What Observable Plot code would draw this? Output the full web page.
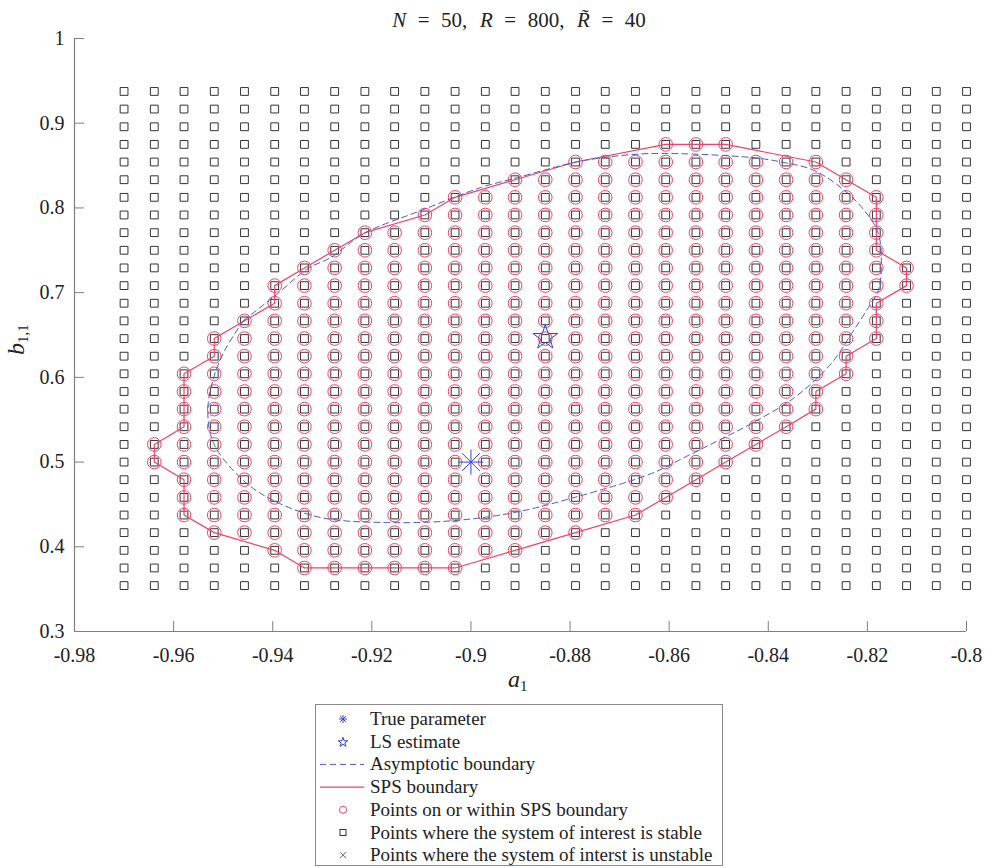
<!DOCTYPE html>
<html>
<head>
<meta charset="utf-8">
<script src="https://cdn.jsdelivr.net/npm/d3@7"></script>
<script src="https://cdn.jsdelivr.net/npm/@observablehq/plot@0.6"></script>
<style>
html,body{margin:0;padding:0;background:#fff;overflow:hidden}
#wrap{position:relative;width:985px;height:868px;font-family:"Liberation Serif","Times New Roman",Times,"DejaVu Serif",serif;color:#222}
.abs{position:absolute;white-space:nowrap;line-height:1}
.eq{display:inline-block;margin:0 0.55em}
.cm{display:inline-block;margin-right:0.6em}
</style>
</head>
<body>
<div id="wrap"></div>
<script>
// ---- grid of tested parameter values ----
const aGrid = [-0.9700, -0.9639, -0.9579, -0.9518, -0.9457, -0.9396, -0.9336, -0.9275, -0.9214, -0.9154,
               -0.9093, -0.9032, -0.8971, -0.8911, -0.8850, -0.8789, -0.8729, -0.8668, -0.8607, -0.8546,
               -0.8486, -0.8425, -0.8364, -0.8304, -0.8243, -0.8182, -0.8121, -0.8061, -0.8000];
const bGrid = [0.3542, 0.3750, 0.3958, 0.4167, 0.4375, 0.4583, 0.4792, 0.5000, 0.5208, 0.5417,
               0.5625, 0.5833, 0.6042, 0.6250, 0.6458, 0.6667, 0.6875, 0.7083, 0.7292, 0.7500,
               0.7708, 0.7917, 0.8125, 0.8333, 0.8542, 0.8750, 0.8958, 0.9167, 0.9375];
// rows (index into bGrid) on or within SPS boundary, per column of aGrid
const spsRowMin = [null, 7, 4, 3, 3, 2, 1, 1, 1, 1, 1, 1, 2, 2, 3, 3, 4, 4, 5, 6, 7, 8, 9, 10, 12, 14, 17, null, null];
const spsRowMax = [null, 8, 12, 14, 15, 17, 18, 19, 20, 20, 21, 22, 22, 23, 23, 24, 24, 24, 25, 25, 25, 24, 24, 24, 23, 22, 18, null, null];
// SPS boundary vertices: [column index, row index]
const spsBoundary = [[6,1],[11,1],[13,2],[15,3],[17,4],[18,5],[19,6],[20,7],[21,8],[22,9],[23,10],[23,11],
  [24,12],[24,13],[25,14],[25,16],[26,17],[26,18],[25,19],[25,22],[24,23],[23,24],[20,25],[18,25],[15,24],
  [13,23],[11,22],[10,21],[8,20],[7,19],[6,18],[5,17],[5,16],[4,15],[3,14],[3,13],[2,12],[2,9],[1,8],[1,7],
  [2,6],[2,4],[3,3],[5,2],[6,1]];
// asymptotic (ellipse-like) boundary
const asymA = [-0.9459, -0.9390, -0.9329, -0.9283, -0.9216, -0.9101, -0.8980, -0.8913, -0.8792, -0.8731,
               -0.8636, -0.8434, -0.8368, -0.8307, -0.8246, -0.8206, -0.8178, -0.8172, -0.8178, -0.8198,
               -0.8232, -0.8273, -0.8347, -0.8434, -0.8501, -0.8570, -0.8636, -0.8792, -0.8913, -0.9034,
               -0.9168, -0.9303, -0.9398, -0.9459, -0.9519, -0.9531, -0.9519, -0.9497, -0.9459];
const asymB = [0.6671, 0.6989, 0.7285, 0.7414, 0.7698, 0.7969, 0.8241, 0.8347, 0.8536, 0.8595,
               0.8642, 0.8595, 0.8536, 0.8442, 0.8205, 0.7969, 0.7698, 0.7296, 0.7025, 0.6824,
               0.6517, 0.6163, 0.5762, 0.5455, 0.5254, 0.5053, 0.4864, 0.4581, 0.4404, 0.4309,
               0.4286, 0.4345, 0.4545, 0.4782, 0.5218, 0.5608, 0.5998, 0.6316, 0.6671];
const trueParam = [{a: -0.9, b: 0.5}];
const lsEstimate = [{a: -0.885, b: 0.647}];
const xTicks = [-0.98, -0.96, -0.94, -0.92, -0.9, -0.88, -0.86, -0.84, -0.82, -0.8];
const yTicks = [0.3, 0.4, 0.5, 0.6, 0.7, 0.8, 0.9, 1];
const legendLabels = ["True parameter", "LS estimate", "Asymptotic boundary", "SPS boundary",
  "Points on or within SPS boundary", "Points where the system of interest is stable",
  "Points where the system of interst is unstable"];

// ---- build tables ----
const gridPts = [];
aGrid.forEach(a => bGrid.forEach(b => gridPts.push({a, b})));
const circlePts = [];
aGrid.forEach((a, i) => {
  if (spsRowMin[i] == null) return;
  for (let j = spsRowMin[i]; j <= spsRowMax[i]; j++) circlePts.push({a, b: bGrid[j]});
});
const spsPts = spsBoundary.map(([i, j]) => ({a: aGrid[i], b: bGrid[j]}));
const asymPts = asymA.map((a, k) => ({a, b: asymB[k]}));

// ---- custom symbols ----
const asterisk8 = {draw(ctx, size) {
  const r = Math.sqrt(size / Math.PI), d = r * Math.SQRT1_2;
  ctx.moveTo(-r, 0); ctx.lineTo(r, 0);
  ctx.moveTo(0, -r); ctx.lineTo(0, r);
  ctx.moveTo(-d, -d); ctx.lineTo(d, d);
  ctx.moveTo(-d, d); ctx.lineTo(d, -d);
}};
const pentagram = {draw(ctx, size) {
  const R = Math.sqrt(size / Math.PI), r = R * 0.382;
  for (let k = 0; k < 10; k++) {
    const ang = -Math.PI / 2 + k * Math.PI / 5, rad = k % 2 ? r : R;
    const x = rad * Math.cos(ang), y = rad * Math.sin(ang);
    if (k) ctx.lineTo(x, y); else ctx.moveTo(x, y);
  }
  ctx.closePath();
}};

const RED = "#f0406a", BLUE = "#3340e8", DBLUE = "#4a58cc", AX = "#808080";
const SERIF = "'Liberation Serif','Times New Roman',Times,'DejaVu Serif',serif";

const chart = Plot.plot({
  width: 985, height: 868,
  marginLeft: 74, marginRight: 19, marginTop: 38, marginBottom: 237,
  x: {domain: [-0.98, -0.8], label: null},
  y: {domain: [0.3, 1], label: null},
  style: {fontFamily: SERIF, fontSize: "20px", color: "#222", background: "transparent", overflow: "visible"},
  marks: [
    Plot.dot(gridPts, {x: "a", y: "b", symbol: "square", r: 4.4, stroke: "#333", fill: "none", strokeWidth: 1}),
    Plot.dot(circlePts, {x: "a", y: "b", r: 6.8, stroke: RED, fill: "none", strokeWidth: 1}),
    Plot.line(spsPts, {x: "a", y: "b", stroke: RED, strokeWidth: 1.2}),
    Plot.line(asymPts, {x: "a", y: "b", stroke: DBLUE, strokeWidth: 1, strokeDasharray: "6,4", curve: "catmull-rom"}),
    Plot.dot(trueParam, {x: "a", y: "b", symbol: asterisk8, r: 12.5, stroke: BLUE, fill: "none", strokeWidth: 1}),
    Plot.dot(lsEstimate, {x: "a", y: "b", symbol: pentagram, r: 13, stroke: BLUE, fill: "none", strokeWidth: 1}),
    Plot.ruleY([0.3], {stroke: AX, strokeWidth: 1.2}),
    Plot.ruleX([-0.98], {stroke: AX, strokeWidth: 1.2}),
    Plot.axisX({ticks: xTicks, tickSize: -10, tickPadding: 26, tickFormat: d => String(d), label: null, stroke: AX, fontSize: 20, fontFamily: SERIF}),
    Plot.axisY({ticks: yTicks, tickSize: -10, tickPadding: 20, tickFormat: d => String(d), label: null, stroke: AX, fontSize: 20, fontFamily: SERIF})
  ]
});

const wrap = document.getElementById("wrap");
wrap.appendChild(chart);

// title
const title = document.createElement("div");
title.className = "abs";
title.style.cssText = "left:0;width:1038px;text-align:center;top:10px;font-size:21px;";
title.innerHTML = '<i>N</i><span class="eq">=</span><span class="cm">50,</span><i>R</i><span class="eq">=</span><span class="cm">800,</span>' +
  '<i>R&#x0303;</i><span class="eq">=</span>40';
wrap.appendChild(title);

// x label
const xl = document.createElement("div");
xl.className = "abs";
xl.style.cssText = "left:508px;top:667px;font-size:24px;";
xl.innerHTML = '<i>a</i><sub style="font-size:15px;vertical-align:-4px">1</sub>';
wrap.appendChild(xl);

// y label
const yl = document.createElement("div");
yl.className = "abs";
yl.style.cssText = "left:-6px;top:326px;font-size:24px;transform:rotate(-90deg);transform-origin:center;width:46px;text-align:center;";
yl.innerHTML = '<i>b</i><sub style="font-size:15px;vertical-align:-4px">1,1</sub>';
wrap.appendChild(yl);

// legend
const ns = "http://www.w3.org/2000/svg";
const lg = document.createElementNS(ns, "svg");
lg.setAttribute("width", 409); lg.setAttribute("height", 163);
lg.style.cssText = "position:absolute;left:315px;top:704px;";
let html = '<rect x="0.5" y="0.5" width="407" height="161" fill="#fff" stroke="#8a8a8a" stroke-width="1"/>';
const rowY = k => 15 + k * 22.7;
const sx = 28;
html += `<g stroke="${BLUE}" stroke-width="1" fill="none">` +
  `<path d="M${sx-4},${rowY(0)}h8M${sx},${rowY(0)-4}v8M${sx-2.8},${rowY(0)-2.8}l5.6,5.6M${sx-2.8},${rowY(0)+2.8}l5.6,-5.6"/>` + '</g>';
{
  const R = 5, r = R * 0.382; let d = "";
  for (let k = 0; k < 10; k++) { const ang = -Math.PI/2 + k*Math.PI/5, rad = k % 2 ? r : R;
    d += (k ? "L" : "M") + (sx + rad*Math.cos(ang)).toFixed(2) + "," + (rowY(1) + 0.6 + rad*Math.sin(ang)).toFixed(2); }
  html += `<path d="${d}Z" stroke="${BLUE}" fill="none" stroke-width="1"/>`;
}
html += `<line x1="5" x2="49" y1="${rowY(2)}" y2="${rowY(2)}" stroke="${DBLUE}" stroke-dasharray="6,4" stroke-width="1"/>`;
html += `<line x1="5" x2="49" y1="${rowY(3)}" y2="${rowY(3)}" stroke="${RED}" stroke-width="1.2"/>`;
html += `<circle cx="${sx}" cy="${rowY(4)}" r="3.6" stroke="${RED}" fill="none"/>`;
html += `<rect x="${sx-3}" y="${rowY(5)-3}" width="6" height="6" stroke="#333" fill="none"/>`;
html += `<path d="M${sx-3},${rowY(6)-3}l6,6M${sx-3},${rowY(6)+3}l6,-6" stroke="#666" fill="none"/>`;
legendLabels.forEach((t, k) => {
  html += `<text x="55" y="${rowY(k) + 6}" font-family="${SERIF.replace(/'/g, "&quot;")}" font-size="19" fill="#222">${t}</text>`;
});
lg.innerHTML = html;
wrap.appendChild(lg);
</script>
</body>
</html>
